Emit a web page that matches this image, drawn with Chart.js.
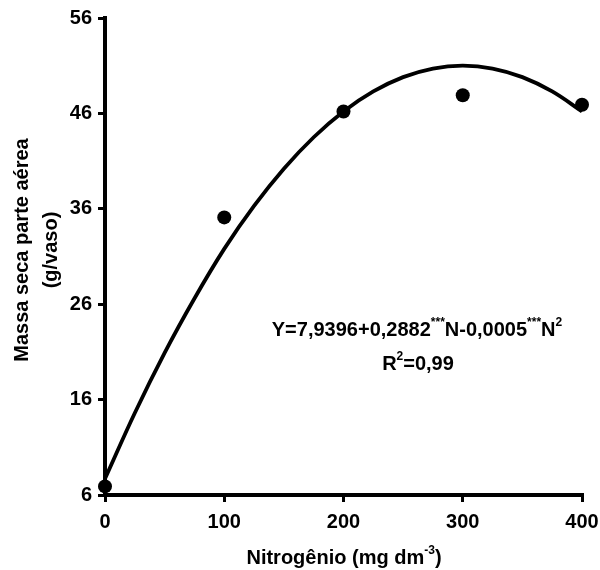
<!DOCTYPE html>
<html>
<head>
<meta charset="utf-8">
<script src="https://cdn.jsdelivr.net/npm/chart.js@4.4.1/dist/chart.umd.min.js"></script>
<style>
  body { margin: 0; background: #fff; }
  #wrap { width: 600px; height: 570px; }
</style>
</head>
<body>
<div id="wrap"><canvas id="massChart" width="600" height="570"></canvas></div>
<script>
// observed means
const doses = [0, 100, 200, 300, 400]
const massa = [6.9, 35.1, 46.2, 47.9, 46.9]

// fitted curve
const curveN = [0, 25, 50, 75, 100, 125, 150, 175, 200, 225, 250, 275, 300, 325, 350, 375, 400]
const curveY = [7.7, 14.6, 20.9, 26.6, 31.8, 36.3, 40.2, 43.5, 46.2, 48.3, 49.8, 50.7, 51.0, 50.7, 49.8, 48.3, 46.2]

const yTicks = [6, 16, 26, 36, 46, 56]
const xTicks = [0, 100, 200, 300, 400]

const font = 'bold 20px "Liberation Sans", Arial, sans-serif'
const tickFont = { family: '"Liberation Sans", Arial', size: 20, weight: 'bold' }

// draws text runs (with superscripts) centred on x
function drawRuns(ctx, runs, cx, y){
    const small = 'bold 12px "Liberation Sans", Arial, sans-serif'
    let total = 0
    runs.forEach(r => {
        ctx.font = r.sup ? small : font
        total += ctx.measureText(r.t).width
    })
    let x = cx - total / 2
    runs.forEach(r => {
        ctx.font = r.sup ? small : font
        ctx.fillText(r.t, x, r.sup ? y - 10 : y)
        x += ctx.measureText(r.t).width
    })
}

const labelsPlugin = {
    id: 'labels',
    afterDraw(chart){
        const ctx = chart.ctx
        ctx.save()
        ctx.fillStyle = '#000'
        ctx.textBaseline = 'alphabetic'
        ctx.textAlign = 'left'

        drawRuns(ctx, [{t: 'Y=7,9396+0,2882'}, {t: '***', sup: true}, {t: 'N-0,0005'}, {t: '***', sup: true}, {t: 'N'}, {t: '2', sup: true}], 417, 336)
        drawRuns(ctx, [{t: 'R'}, {t: '2', sup: true}, {t: '=0,99'}], 418, 370)

        drawRuns(ctx, [{t: 'Nitrogênio (mg dm'}, {t: '-3', sup: true}, {t: ')'}], 344, 564)

        ctx.rotate(-Math.PI / 2)
        ctx.font = font
        ctx.textAlign = 'center'
        ctx.fillText('Massa seca parte aérea', -250, 28)
        ctx.fillText('(g/vaso)', -250, 57)
        ctx.restore()
    }
}

const ctx = document.getElementById('massChart').getContext('2d')
const massChart = new Chart(ctx, {
    type: 'line',
    data: {
        datasets: [{
            label: 'Ajuste',
            data: curveN.map((n, i) => ({x: n, y: curveY[i]})),
            borderColor: '#000',
            borderWidth: 3.8,
            pointRadius: 0,
            tension: 0.4,
            fill: false
        }, {
            label: 'Massa',
            data: doses.map((n, i) => ({x: n, y: massa[i]})),
            showLine: false,
            pointRadius: 7,
            pointBackgroundColor: '#000',
            pointBorderColor: '#000',
            pointBorderWidth: 0
        }]
    },
    plugins: [labelsPlugin],
    options: {
        responsive: false,
        animation: false,
        clip: false,
        layout: { padding: { top: 8, right: 0, left: 0, bottom: 0 } },
        plugins: { legend: { display: false }, tooltip: { enabled: false } },
        scales: {
            x: {
                type: 'linear',
                min: 0,
                max: 400,
                afterBuildTicks: axis => { axis.ticks = xTicks.map(v => ({value: v})) },
                afterFit: axis => {
                    axis.height = 570 - 8 - 471 - 16
                    axis.paddingRight = 18
                },
                border: { color: '#000', width: 4 },
                grid: { drawOnChartArea: false, color: '#000', lineWidth: 3, tickLength: 7 },
                ticks: { color: '#000', font: tickFont, padding: 8, maxRotation: 0 }
            },
            y: {
                min: 6,
                max: 56,
                afterBuildTicks: axis => { axis.ticks = yTicks.map(v => ({value: v})) },
                afterFit: axis => { axis.width = 105 },
                border: { color: '#000', width: 4 },
                grid: { drawOnChartArea: false, color: '#000', lineWidth: 3, tickLength: 7 },
                ticks: { color: '#000', font: tickFont, padding: 6 }
            }
        }
    }
})
</script>
</body>
</html>
